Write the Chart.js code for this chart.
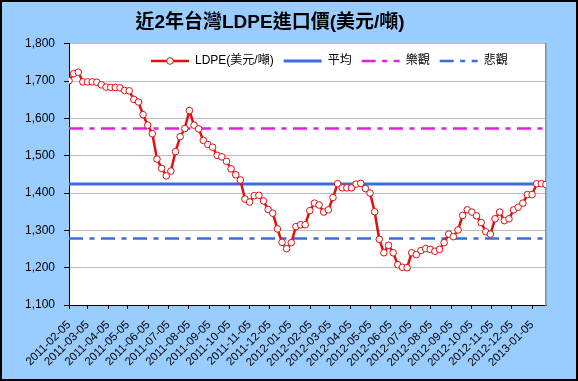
<!DOCTYPE html>
<html>
<head>
<meta charset="utf-8">
<script src="https://cdn.jsdelivr.net/npm/chart.js@4"></script>
<style>
html,body{margin:0;padding:0;background:#99CCFF;}
canvas{display:block;}
</style>
</head>
<body>
<canvas id="c" width="578" height="381"></canvas>
<script>
// ---------- DATA ----------
const titleText = '近2年台灣LDPE進口價(美元/噸)';
const seriesNames = ['LDPE(美元/噸)', '平均', '樂觀', '悲觀'];

const categories = [
  '2011-02-05','2011-02-12','2011-02-19','2011-02-26','2011-03-05','2011-03-12','2011-03-19','2011-03-26',
  '2011-04-02','2011-04-09','2011-04-16','2011-04-23','2011-04-30','2011-05-07','2011-05-14','2011-05-21',
  '2011-05-28','2011-06-04','2011-06-11','2011-06-18','2011-06-25','2011-07-02','2011-07-09','2011-07-16',
  '2011-07-23','2011-07-30','2011-08-06','2011-08-13','2011-08-20','2011-08-27','2011-09-03','2011-09-10',
  '2011-09-17','2011-09-24','2011-10-01','2011-10-08','2011-10-15','2011-10-22','2011-10-29','2011-11-05',
  '2011-11-12','2011-11-19','2011-11-26','2011-12-03','2011-12-10','2011-12-17','2011-12-24','2011-12-31',
  '2012-01-07','2012-01-14','2012-01-21','2012-01-28','2012-02-04','2012-02-11','2012-02-18','2012-02-25',
  '2012-03-03','2012-03-10','2012-03-17','2012-03-24','2012-03-31','2012-04-07','2012-04-14','2012-04-21',
  '2012-04-28','2012-05-05','2012-05-12','2012-05-19','2012-05-26','2012-06-02','2012-06-09','2012-06-16',
  '2012-06-23','2012-06-30','2012-07-07','2012-07-14','2012-07-21','2012-07-28','2012-08-04','2012-08-11',
  '2012-08-18','2012-08-25','2012-09-01','2012-09-08','2012-09-15','2012-09-22','2012-09-29','2012-10-06',
  '2012-10-13','2012-10-20','2012-10-27','2012-11-03','2012-11-10','2012-11-17','2012-11-24','2012-12-01',
  '2012-12-08','2012-12-15','2012-12-22','2012-12-29','2013-01-05','2013-01-12','2013-01-19','2013-01-26'
];

const ldpeValues = [
  1701,1720,1724,1698,1698,1698,1697,1690,1684,1683,
  1683,1682,1675,1674,1651,1644,1610,1582,1559,1491,
  1466,1446,1459,1511,1551,1573,1621,1582,1572,1541,
  1530,1523,1501,1497,1485,1465,1449,1435,1384,1376,
  1393,1394,1379,1356,1346,1304,1268,1251,1267,1310,
  1315,1315,1353,1373,1368,1349,1355,1388,1425,1414,
  1414,1414,1424,1426,1412,1400,1350,1276,1240,1260,
  1240,1208,1201,1200,1240,1235,1246,1251,1249,1244,
  1249,1267,1290,1283,1301,1340,1355,1349,1339,1321,
  1296,1290,1331,1349,1326,1331,1355,1362,1373,1396,
  1396,1425,1425,1423
];

const averageValue = 1424;
const optimisticValue = 1573;
const pessimisticValue = 1278;

const tickLabels = [
  '2011-02-05','2011-03-05','2011-04-05','2011-05-05','2011-06-05','2011-07-05','2011-08-05','2011-09-05',
  '2011-10-05','2011-11-05','2011-12-05','2012-01-05','2012-02-05','2012-03-05','2012-04-05','2012-05-05',
  '2012-06-05','2012-07-05','2012-08-05','2012-09-05','2012-10-05','2012-11-05','2012-12-05','2013-01-05'
];

const yTicks = [1100, 1200, 1300, 1400, 1500, 1600, 1700, 1800];

// ---------- HELPERS ----------
const DAY = 86400000;
const t0 = Date.parse(categories[0]);
const dayOf = s => Math.round((Date.parse(s) - t0) / DAY);
const lastDay = dayOf(categories[categories.length - 1]);
const FONT = "'Liberation Sans', Arial, 'Noto Sans CJK TC', sans-serif";

const ldpePoints = categories.map((d, i) => ({ x: dayOf(d), y: ldpeValues[i] }));
const hLine = v => [{ x: 0, y: v }, { x: lastDay, y: v }];

const dashDot = [14, 6.5, 5, 6.5];

// ---------- PLUGINS ----------
const frame = {
  id: 'frame',
  afterInit(chart) {
    const lg = chart.legend;
    if (lg && !lg._patched) {
      const fit = lg.fit;
      lg.fit = function () { fit.call(this); if (this.isHorizontal()) this.height = 0; };
      lg._patched = true;
    }
  },
  afterLayout(chart) {
    const tb = chart.titleBlock;
    if (tb) { tb.left = 0; tb.right = 540; }
    const lg = chart.legend;
    if (lg) { lg.left = 141; lg.right = 578; lg.top = 45; lg.bottom = 75; }
  },
  beforeDraw(chart) {
    const { ctx, chartArea: a } = chart;
    ctx.save();
    ctx.fillStyle = '#99CCFF';
    ctx.fillRect(0, 0, chart.width, chart.height);
    ctx.fillStyle = '#FFFFFF';
    ctx.fillRect(a.left, a.top, a.right - a.left, a.bottom - a.top);
    ctx.restore();
  },
  afterDraw(chart) {
    const { ctx } = chart;
    const lg = chart.legend;
    ctx.save();
    if (lg && lg.legendHitBoxes && lg.legendHitBoxes[0]) {
      const hb = lg.legendHitBoxes[0];
      ctx.beginPath();
      ctx.arc(hb.left + 19, hb.top + 6, 3.3, 0, Math.PI * 2);
      ctx.fillStyle = '#FFFFFF';
      ctx.fill();
      ctx.lineWidth = 1;
      ctx.strokeStyle = '#DD1111';
      ctx.stroke();
    }
    ctx.lineWidth = 2;
    ctx.strokeStyle = '#000000';
    ctx.strokeRect(1, 1, chart.width - 2, chart.height - 2);
    ctx.restore();
  }
};

// ---------- CHART ----------
new Chart(document.getElementById('c'), {
  type: 'line',
  data: {
    datasets: [
      {
        label: seriesNames[0],
        data: ldpePoints,
        borderColor: '#DD1111',
        backgroundColor: '#FFFFFF',
        borderWidth: 2.5,
        pointRadius: 3.3,
        pointBorderWidth: 1,
        pointBackgroundColor: '#FFFFFF',
        pointBorderColor: '#DD1111',
        tension: 0,
        order: 0
      },
      {
        label: seriesNames[1],
        data: hLine(averageValue),
        borderColor: '#3D6BE0',
        backgroundColor: '#3D6BE0',
        borderWidth: 3,
        pointRadius: 0,
        order: 1
      },
      {
        label: seriesNames[2],
        data: hLine(optimisticValue),
        borderColor: '#E020E0',
        backgroundColor: '#E020E0',
        borderWidth: 2.5,
        borderDash: dashDot,
        pointRadius: 0,
        order: 1
      },
      {
        label: seriesNames[3],
        data: hLine(pessimisticValue),
        borderColor: '#3D6BE0',
        backgroundColor: '#3D6BE0',
        borderWidth: 2.5,
        borderDash: dashDot,
        pointRadius: 0,
        order: 1
      }
    ]
  },
  options: {
    responsive: false,
    animation: false,
    events: [],
    layout: { padding: { left: 0, right: 32, top: 0, bottom: 0 } },
    plugins: {
      title: {
        display: true,
        text: titleText,
        color: '#000000',
        font: { family: FONT, size: 19, weight: 'bold', lineHeight: 1.2 },
        padding: { top: 11, bottom: 10 }
      },
      legend: {
        display: true,
        position: 'top',
        align: 'start',
        labels: {
          usePointStyle: true,
          pointStyleWidth: 38,
          boxHeight: 12,
          padding: 10,
          color: '#000000',
          font: { family: FONT, size: 12 },
          generateLabels(chart) {
            return chart.data.datasets.map((ds, i) => ({
              text: ds.label,
              fillStyle: ds.borderColor,
              strokeStyle: ds.borderColor,
              lineWidth: ds.borderWidth,
              lineDash: ds.borderDash || [],
              lineCap: 'butt',
              pointStyle: 'line',
              rotation: 180,
              hidden: false,
              datasetIndex: i,
              fontColor: '#000000'
            }));
          }
        }
      },
      tooltip: { enabled: false }
    },
    scales: {
      x: {
        type: 'linear',
        min: 0,
        max: lastDay,
        afterBuildTicks(scale) {
          scale.ticks = tickLabels.map(l => ({ value: dayOf(l) }));
        },
        afterFit(scale) { scale.height = 76; },
        ticks: {
          autoSkip: false,
          maxRotation: 45,
          minRotation: 45,
          padding: 9,
          color: '#000000',
          font: { family: FONT, size: 11.5 },
          callback: (v, i) => tickLabels[i]
        },
        grid: { drawOnChartArea: false, drawTicks: true, tickLength: 4, tickColor: '#000000' },
        border: { display: true, color: '#000000', width: 1 }
      },
      y: {
        type: 'linear',
        min: yTicks[0],
        max: yTicks[yTicks.length - 1],
        afterBuildTicks(scale) {
          scale.ticks = yTicks.map(v => ({ value: v }));
        },
        afterFit(scale) { scale.width = 69; },
        ticks: {
          padding: 9,
          color: '#000000',
          font: { family: FONT, size: 12 }
        },
        grid: { color: '#BEBEBE', lineWidth: 1, tickLength: 5, tickColor: '#000000' },
        border: { display: true, color: '#000000', width: 1 }
      },
      y2: {
        type: 'linear',
        position: 'right',
        display: true,
        min: yTicks[0],
        max: yTicks[yTicks.length - 1],
        afterFit(scale) { scale.width = 0; },
        ticks: { display: false },
        grid: { display: false, drawTicks: false },
        border: { display: true, color: '#8C8C8C', width: 1.5 }
      }
    }
  },
  plugins: [frame]
});
</script>
</body>
</html>
